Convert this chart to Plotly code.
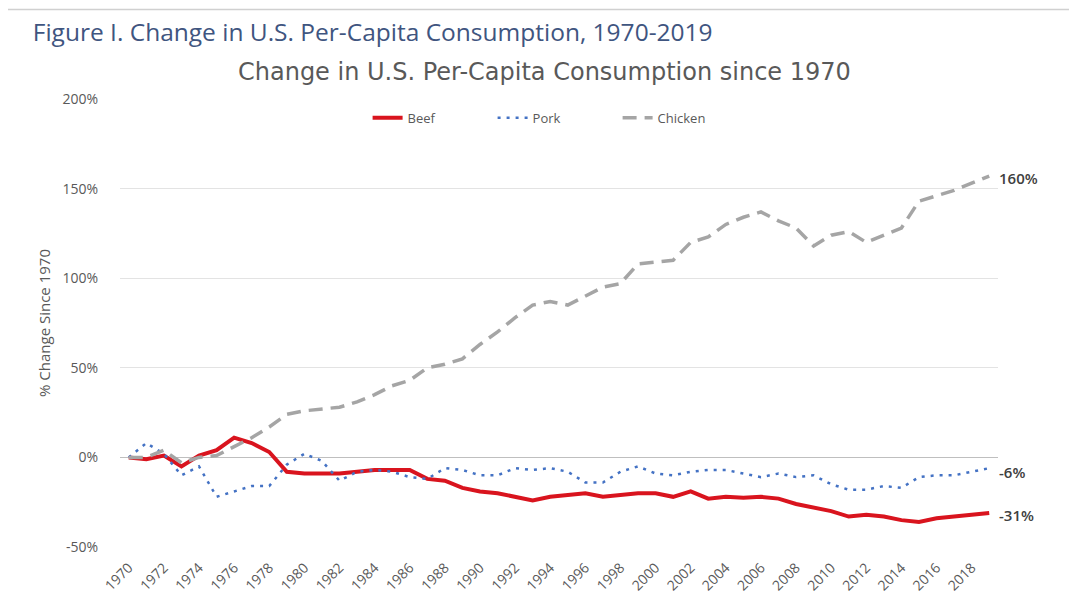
import plotly.graph_objects as go

years = list(range(1970, 2020))

beef = [0, -1, 1, -5, 1, 4, 11, 8, 3, -8, -9, -9, -9, -8, -7, -7, -7, -12, -13, -17,
        -19, -20, -22, -24, -22, -21, -20, -22, -21, -20, -20, -22, -19, -23, -22, -22.5,
        -22, -23, -26, -28, -30, -33, -32, -33, -35, -36, -34, -33, -32, -31]

pork = [0, 8, 2, -10, -5, -22, -19, -16, -16, -4, 2, -2, -13, -8, -7, -8, -11, -12, -6, -7,
        -10, -10, -6, -7, -6, -8, -14, -14, -8, -5, -9, -10, -8, -7, -7, -9, -11, -9, -11, -10,
        -15, -18, -18, -16, -17, -11, -10, -10, -8, -6]

chicken = [0, 0, 4, -3, 0, 1, 6, 11, 17, 24, 26, 27, 28, 31, 35, 40, 43, 50, 52, 55,
           63, 70, 78, 85, 87, 85, 90, 95, 97, 108, 109, 110, 120, 123, 130, 134, 137, 132, 128, 118,
           124, 126, 120, 124, 128, 143, 146, 149, 153, 157]

end_labels = ["160%", "-6%", "-31%"]
tick_years = years[::2]
tick_text = [str(y) for y in tick_years]
y_ticks = [-50, 0, 50, 100, 150, 200]
y_tick_text = ["-50%", "0%", "50%", "100%", "150%", "200%"]

FONT = "Open Sans, sans-serif"

fig = go.Figure()
fig.add_trace(go.Scatter(x=years, y=beef, name="Beef", mode="lines",
                         line=dict(color="#D9141E", width=4)))
fig.add_trace(go.Scatter(x=years, y=pork, name="Pork", mode="lines",
                         line=dict(color="#4472C4", width=2.5, dash="3px,6px")))
fig.add_trace(go.Scatter(x=years, y=chicken, name="Chicken", mode="lines",
                         line=dict(color="#A5A5A5", width=3.5, dash="14px,8px")))

shifts = {"160%": -2, "-6%": -4, "-31%": -2}
for series, lab in zip([chicken, pork, beef], end_labels):
    fig.add_annotation(x=years[-1], y=series[-1], text=lab, showarrow=False,
                       xanchor="left", xshift=8, yshift=shifts[lab],
                       font=dict(family=FONT, size=15, color="#404040", weight=600))

fig.add_annotation(xref="paper", yref="paper", x=0.484, y=1.06,
                   text="Change in U.S. Per-Capita Consumption since 1970",
                   showarrow=False, xanchor="center", yanchor="middle",
                   font=dict(family="DejaVu Sans, sans-serif", size=24, color="#595959"))

# outer frame line (screenshot border)
fig.add_shape(type="line", xref="paper", yref="paper", x0=-0.131, x1=1.2, y0=1.2, y1=1.2,
              line=dict(color="#D0D0D0", width=1.5))

fig.update_layout(
    width=1077, height=606,
    paper_bgcolor="white", plot_bgcolor="white",
    margin=dict(l=112, r=87, t=91, b=67),
    title=dict(text="Figure I. Change in U.S. Per-Capita Consumption, 1970-2019",
               x=0.023, xanchor="left", y=0.959, yanchor="middle",
               font=dict(family=FONT, size=24.5, color="#3F5580")),
    legend=dict(orientation="h", x=0.282, xanchor="left", y=0.958, yanchor="middle",
                font=dict(family=FONT, size=13, color="#595959"),
                bgcolor="rgba(0,0,0,0)", entrywidth=80),
    showlegend=True,
    font=dict(family=FONT, color="#595959"),
)

fig.update_xaxes(range=[1969.5, 2019.5], tickmode="array", tickvals=tick_years, ticktext=tick_text,
                 tickangle=-45, showgrid=False, showline=False, zeroline=False,
                 tickfont=dict(family=FONT, size=14, color="#595959"), ticks="outside",
                 ticklen=6, tickcolor="rgba(0,0,0,0)")
fig.update_yaxes(range=[-50, 200], tickvals=y_ticks, ticktext=y_tick_text,
                 showgrid=True, gridcolor="#E3E3E3", gridwidth=1,
                 zeroline=True, zerolinecolor="#BFBFBF", zerolinewidth=1,
                 tickfont=dict(family=FONT, size=14, color="#595959"), ticklen=18, ticks="outside",
                 tickcolor="rgba(0,0,0,0)",
                 title=dict(text="% Change Since 1970", standoff=8,
                            font=dict(family=FONT, size=15, color="#595959")))

fig.write_html("out.html")
